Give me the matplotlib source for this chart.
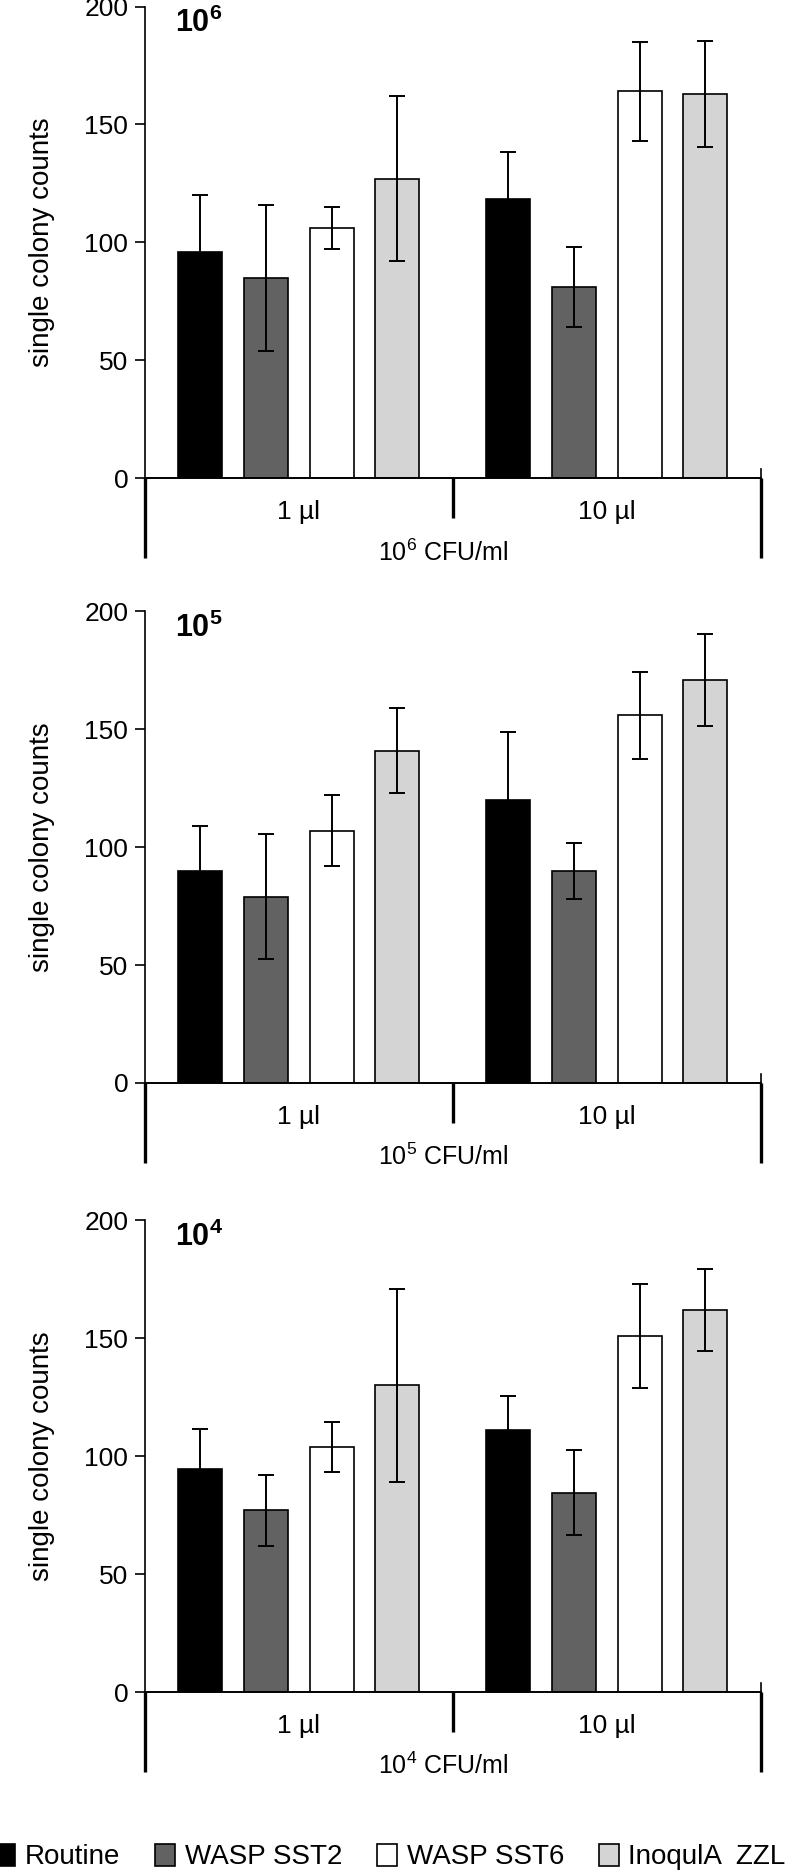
import numpy as np
import matplotlib
matplotlib.use('Agg')
import matplotlib.pyplot as plt
from matplotlib.patches import Patch

plt.rcParams['font.family'] = ['Liberation Sans', 'DejaVu Sans']
plt.rcParams['mathtext.fontset'] = 'custom'
plt.rcParams['mathtext.rm'] = 'Liberation Sans'
plt.rcParams['mathtext.bf'] = 'Liberation Sans:bold'

# Data
groups = ['1 µl', '10 µl']
series = ['Routine', 'WASP SST2', 'WASP SST6', 'InoqulA  ZZL']
colors = ['#000000', '#626262', '#ffffff', '#d4d4d4']
exponents = ['6', '5', '4']

means_1e6 = [[96, 85, 106, 127], [118.5, 81, 164, 163]]
err_1e6 = [[24, 31, 9, 35], [20, 17, 21, 22.5]]
means_1e5 = [[90, 79, 107, 141], [120, 90, 156, 171]]
err_1e5 = [[19, 26.5, 15, 18], [29, 12, 18.5, 19.5]]
means_1e4 = [[94.5, 77, 104, 130], [111, 84.5, 151, 162]]
err_1e4 = [[17, 15, 10.5, 41], [14.5, 18, 22, 17.5]]

all_means = [means_1e6, means_1e5, means_1e4]
all_errs = [err_1e6, err_1e5, err_1e4]

# axes positions (fig fraction)
left, width = 0.181, 0.77
bottoms = [0.745, 0.4224, 0.0976]
height = 0.2515

spacing = 0.213
bar_w = 0.143

fig = plt.figure(figsize=(8, 18.75), dpi=100)

for p in range(3):
    ax = fig.add_axes([left, bottoms[p], width, height])
    means = np.array(all_means[p])
    errs = np.array(all_errs[p])
    for i in range(len(series)):
        xs = np.arange(len(groups)) + 0.5 + (i - 1.5) * spacing
        ax.bar(xs, means[:, i], width=bar_w, color=colors[i], edgecolor='black',
               linewidth=1.2, yerr=errs[:, i], capsize=5.5,
               error_kw=dict(elinewidth=1.4, capthick=1.4, ecolor='black'), zorder=2)

    ax.set_xlim(0, 2)
    ax.set_ylim(0, 200)
    ax.set_yticks([0, 50, 100, 150, 200])
    ax.tick_params(axis='y', labelsize=19, length=7, width=1.2, pad=5)
    ax.set_xticks([])
    for s in ['top', 'right']:
        ax.spines[s].set_visible(False)
    ax.spines['left'].set_linewidth(1.2)
    ax.spines['bottom'].set_linewidth(1.4)

    ax.set_ylabel('single colony counts', fontsize=20)
    ax.yaxis.set_label_coords(-0.145, 0.5)

    # bracket lines below the axis
    ax.plot([0, 0], [0, -34], color='black', lw=2.4, clip_on=False, solid_capstyle='butt')
    ax.plot([2, 2], [0, -34], color='black', lw=2.4, clip_on=False, solid_capstyle='butt')
    ax.plot([2, 2], [0, 4], color='black', lw=1.2, clip_on=False)
    ax.plot([1, 1], [0, -17], color='black', lw=2.4, clip_on=False, solid_capstyle='butt')

    for g, lab in enumerate(groups):
        ax.text(g + 0.5, -14.5, lab, ha='center', va='center', fontsize=19)
    ax.text(0.97, -31.5, '10$^{' + exponents[p] + '}$ CFU/ml', ha='center', va='center', fontsize=18)

    ax.text(0.097, 193, r'$\mathbf{10^{' + exponents[p] + '}}$', ha='left', va='center', fontsize=22)

handles = [Patch(facecolor=c, edgecolor='black', linewidth=1.2) for c in colors]
fig.legend(handles, series, loc='center', bbox_to_anchor=(0.488, 1 - 1857 / 1875), ncol=4,
           frameon=False, fontsize=20, handlelength=0.72, handleheight=0.85,
           handletextpad=0.35, columnspacing=1.25, borderpad=0, borderaxespad=0)

fig.savefig('out.png', dpi=100)
